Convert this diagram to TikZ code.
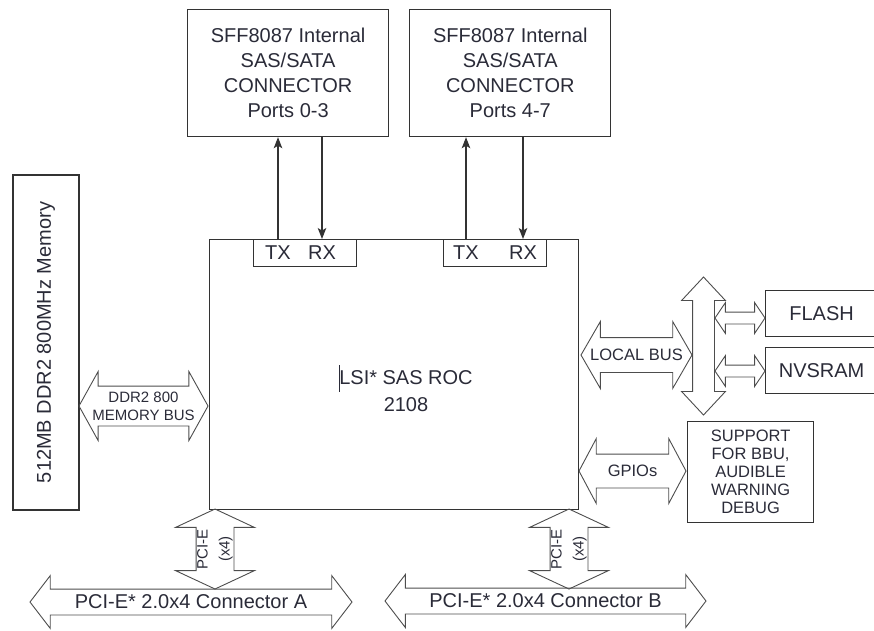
\documentclass[tikz,border=0pt]{standalone}
\usepackage{fontspec}
\setmainfont{Liberation Sans}
\usetikzlibrary{positioning,shapes.arrows,arrows.meta}
\definecolor{boxstroke}{HTML}{333333}
\definecolor{busstroke}{HTML}{4d4d4d}
\definecolor{labeltext}{HTML}{2a2b38}
\tikzset{
  blk/.style={draw=boxstroke, line width=1.2pt, inner sep=0pt, align=center,
              text=labeltext, font=\fontsize{20}{25}\selectfont},
  port/.style={text=labeltext, inner sep=0pt, font=\fontsize{20}{25}\selectfont},
  bus/.style={double arrow, draw=busstroke, line width=0.9pt, inner xsep=0pt,
              double arrow head indent=0pt},
  buslabel/.style={text=labeltext, inner sep=0pt, align=center},
  sig/.style={-{Stealth[length=11pt,width=8.5pt,inset=2.5pt]}, line width=1.1pt,
              draw=boxstroke}
}

\begin{document}
\begin{tikzpicture}[x=1pt, y=-1pt]
  \useasboundingbox (0,0) rectangle (874,630);
  \clip (0,0) rectangle (874,630);

  % ===== SAS/SATA connectors =====
  \node[blk, minimum width=201pt, minimum height=127pt, anchor=north west] (sffA) at (187,9)
    {SFF8087 Internal\\SAS/SATA\\CONNECTOR\\Ports 0-3};
  \node[blk, minimum width=201pt, minimum height=127pt, right=20pt of sffA] (sffB)
    {SFF8087 Internal\\SAS/SATA\\CONNECTOR\\Ports 4-7};

  % ===== ROC =====
  \node[blk, minimum width=369pt, minimum height=270pt, anchor=north west] (roc) at (209,239) {};
  \node[port, align=center, font=\fontsize{20}{27}\selectfont] (rocname) at (406,391)
    {LSI* SAS ROC\\2108};
  \draw[labeltext, line width=1pt] (339,365) -- (339,392);

  % TX/RX ports
  \node[blk, minimum width=103pt, minimum height=27pt, anchor=north west] (trxA) at (253,239) {};
  \node[port] (txA) at (278,253) {TX};
  \node[port] (rxA) at (322,253) {RX};
  \node[blk, minimum width=103pt, minimum height=27pt, anchor=north west] (trxB) at (443,239) {};
  \node[port] (txB) at (466,253) {TX};
  \node[port] (rxB) at (523,253) {RX};

  \draw[sig] (txA |- trxA.north) -- (txA |- sffA.south);
  \draw[sig] (rxA |- sffA.south) -- (rxA |- trxA.north);
  \draw[sig] (txB |- trxB.north) -- (txB |- sffB.south);
  \draw[sig] (rxB |- sffB.south) -- (rxB |- trxB.north);

  % ===== Memory =====
  \node[blk, rotate=90, minimum width=335pt, minimum height=66pt] (mem) at (46,342.5)
    {512MB DDR2 800MHz Memory};
  \node[bus, inner ysep=19.5pt, minimum height=129pt, double arrow head extend=14.5pt,
        double arrow tip angle=122] (ddr) at (143.5,406) {};
  \node[buslabel, font=\fontsize{15}{18}\selectfont] at (ddr) {DDR2 800\\MEMORY BUS};

  % ===== Local bus =====
  \node[bus, inner ysep=17pt, minimum height=111pt, double arrow head extend=16pt,
        double arrow tip angle=120] (lbus) at (636.5,355) {};
  \node[buslabel, font=\fontsize{16.5}{20}\selectfont] at (lbus) {LOCAL BUS};
  \node[bus, rotate=90, inner ysep=10.5pt, minimum height=138pt, double arrow head extend=11pt,
        double arrow tip angle=86] (vbus) at (703.5,346) {};

  \node[blk, minimum width=112pt, minimum height=46pt, anchor=north west] (flash) at (765,290) {FLASH};
  \node[blk, minimum width=112pt, minimum height=46pt, below=10pt of flash] (nvsram) {NVSRAM};
  \node[bus, inner ysep=5.5pt, minimum height=50pt, double arrow head extend=9.5pt,
        double arrow tip angle=112] (fbus) at (740,318) {};
  \node[bus, inner ysep=5.5pt, minimum height=50pt, double arrow head extend=9.5pt,
        double arrow tip angle=112] (nbus) at (740,371) {};

  % ===== GPIOs =====
  \node[bus, inner ysep=16.5pt, minimum height=107pt, double arrow head extend=15.5pt,
        double arrow tip angle=124] (gpio) at (632.5,471) {};
  \node[buslabel, font=\fontsize{16.5}{20}\selectfont] at (gpio) {GPIOs};
  \node[blk, minimum width=126pt, minimum height=101pt, anchor=north west,
        font=\fontsize{16.5}{18}\selectfont] (bbu) at (687,421)
    {SUPPORT\\FOR BBU,\\AUDIBLE\\WARNING\\DEBUG};

  % ===== PCI-E =====
  \node[bus, rotate=90, inner ysep=18.5pt, minimum height=80pt, double arrow head extend=20.5pt,
        double arrow tip angle=130] (pcieA) at (215,549) {};
  \node[buslabel, rotate=90, font=\fontsize{15}{22}\selectfont] at (pcieA) {PCI-E\\(x4)};
  \node[bus, rotate=90, inner ysep=18.5pt, minimum height=80pt, double arrow head extend=20.5pt,
        double arrow tip angle=130] (pcieB) at (569,549) {};
  \node[buslabel, rotate=90, font=\fontsize{15}{22}\selectfont] at (pcieB) {PCI-E\\(x4)};

  \node[bus, inner ysep=12.5pt, minimum height=322pt, double arrow head extend=13.5pt,
        double arrow tip angle=105] (connA) at (191,602) {};
  \node[buslabel, font=\fontsize{20}{25}\selectfont] at (connA) {PCI-E* 2.0x4 Connector A};
  \node[bus, inner ysep=12.5pt, minimum height=321pt, double arrow head extend=13.5pt,
        double arrow tip angle=105] (connB) at (545.5,601) {};
  \node[buslabel, font=\fontsize{20}{25}\selectfont] at (connB) {PCI-E* 2.0x4 Connector B};

\end{tikzpicture}
\end{document}
